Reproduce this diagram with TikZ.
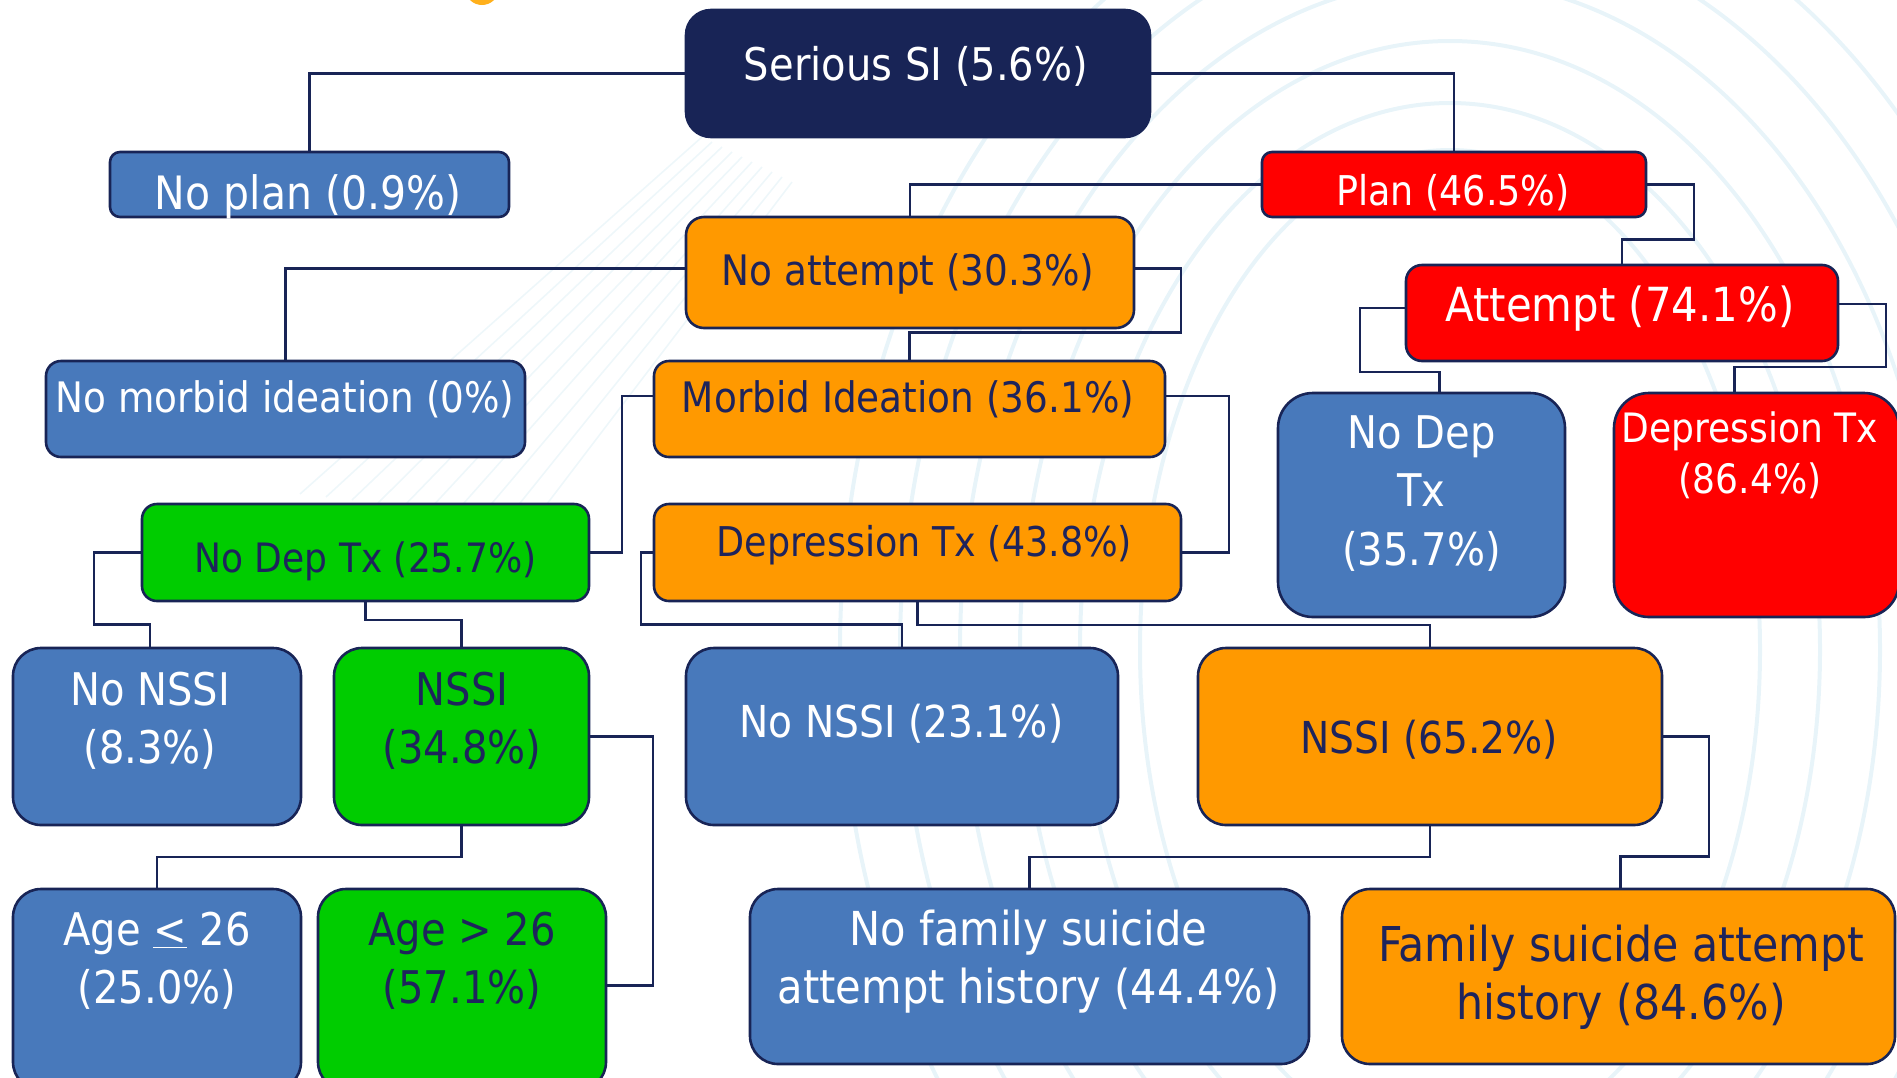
\documentclass[tikz,border=0pt]{standalone}
\usepackage{fontspec}
\setmainfont{DejaVu Sans}[FakeStretch=0.89]
\usetikzlibrary{calc}
\definecolor{navy}{RGB}{24,36,86}
\definecolor{boxblue}{RGB}{72,121,187}
\definecolor{boxred}{RGB}{255,0,0}
\definecolor{boxorange}{RGB}{255,153,0}
\definecolor{boxgreen}{RGB}{0,204,0}
\definecolor{txtnavy}{RGB}{30,36,92}
\definecolor{bgline}{RGB}{232,244,249}
\definecolor{dotorange}{RGB}{255,176,28}
\pgfdeclarelayer{bg}
\pgfsetlayers{bg,main}
\tikzset{
  box/.style={draw=navy, line width=2.6pt, rounded corners=#1, inner sep=0pt, outer sep=0pt, shape=rectangle},
  conn/.style={draw=navy, line width=2.3pt},
  wtxt/.style={text=white, align=center, inner sep=0pt},
  ntxt/.style={text=txtnavy, align=center, inner sep=0pt},
  deco/.style={draw=bgline, line width=4pt},
}
\newcommand{\mkbox}[7]{\node[box=#7, fill=#6, minimum width={#4-#2}, minimum height={#5-#3}] (#1) at ({(#2+#4)/2},{(#3+#5)/2}) {};}
\newcommand{\fs}[2]{\fontsize{#1}{#2}\selectfont}
\begin{document}
\begin{tikzpicture}[x=1pt,y=-1pt]
\useasboundingbox (0,0) rectangle (1897,1077);
% boxes
\mkbox{si}{686}{10}{1150}{137}{navy}{25}
\mkbox{noplan}{110}{152}{509}{217}{boxblue}{10}
\mkbox{plan}{1262}{152}{1646}{217}{boxred}{10}
\mkbox{noatt}{686}{217}{1134}{328}{boxorange}{18}
\mkbox{attempt}{1406}{265}{1838}{361}{boxred}{16}
\mkbox{nomorbid}{46}{361}{525}{457}{boxblue}{15}
\mkbox{morbid}{654}{361}{1165}{457}{boxorange}{15}
\mkbox{nodepa}{142}{504}{589}{601}{boxgreen}{15}
\mkbox{deptxa}{654}{504}{1181}{601}{boxorange}{15}
\mkbox{nodepb}{1278}{393}{1565}{617}{boxblue}{35}
\mkbox{deptxb}{1614}{393}{1899}{617}{boxred}{35}
\mkbox{nonssia}{13}{648}{301}{825}{boxblue}{28}
\mkbox{nssia}{334}{648}{589}{825}{boxgreen}{28}
\mkbox{nonssib}{686}{648}{1118}{825}{boxblue}{28}
\mkbox{nssib}{1198}{648}{1662}{825}{boxorange}{28}
\mkbox{agea}{13}{889}{301}{1090}{boxblue}{28}
\mkbox{ageb}{318}{889}{606}{1090}{boxgreen}{28}
\mkbox{nofam}{750}{889}{1309}{1064}{boxblue}{28}
\mkbox{fam}{1342}{889}{1895}{1064}{boxorange}{28}
% texts
\node[wtxt, font=\fs{45}{57}] (si-t) at (916,66.5) {Serious SI (5.6\%)};
\node[wtxt, font=\fs{46}{57}] (noplan-t) at (308,197) {No plan (0.9\%)};
\node[wtxt, font=\fs{41}{50}] (plan-t) at (1453,192.5) {Plan (46.5\%)};
\node[ntxt, font=\fs{42}{52}] (noatt-t) at (908,274) {No attempt (30.3\%)};
\node[wtxt, font=\fs{47}{57}] (attempt-t) at (1620,308.5) {Attempt (74.1\%)};
\node[wtxt, font=\fs{42}{52}] (nomorbid-t) at (285,399.5) {No morbid ideation (0\%)};
\node[ntxt, font=\fs{42}{52}] (morbid-t) at (908,399.5) {Morbid Ideation (36.1\%)};
\node[ntxt, font=\fs{40.5}{50}] (nodepa-t) at (365.5,561.5) {No Dep Tx (25.7\%)};
\node[ntxt, font=\fs{41}{50}] (deptxa-t) at (924.5,545) {Depression Tx (43.8\%)};
\node[wtxt, font=\fs{45}{58.5}] (nodepb-t) at (1421.5,493.5) {No Dep\\Tx\\(35.7\%)};
\node[wtxt, font=\fs{40.5}{51}] (deptxb-t) at (1750,455.5) {Depression Tx\\(86.4\%)};
\node[wtxt, font=\fs{45}{58}] (nonssia-t) at (150,721) {No NSSI\\(8.3\%)};
\node[ntxt, font=\fs{45}{58}] (nssia-t) at (462,721) {NSSI\\(34.8\%)};
\node[wtxt, font=\fs{44}{57}] (nonssib-t) at (901.5,723.5) {No NSSI (23.1\%)};
\node[ntxt, font=\fs{44}{57}] (nssib-t) at (1429,739.5) {NSSI (65.2\%)};
\node[wtxt, font=\fs{45}{58}] (agea-t) at (157,961) {Age \underline{<} 26\\(25.0\%)};
\node[ntxt, font=\fs{45}{58}] (ageb-t) at (462,961) {Age > 26\\(57.1\%)};
\node[wtxt, font=\fs{46.8}{58}] (nofam-t) at (1028.5,962) {No family suicide\\attempt history (44.4\%)};
\node[ntxt, font=\fs{48}{58}] (fam-t) at (1621,977.5) {Family suicide attempt\\history (84.6\%)};
\begin{pgfonlayer}{bg}
% faint background decoration
\foreach \rx/\ry in {310/500,370/547,430/609,490/670,550/730,610/790}{
  \draw[deco] (1450,650) ellipse [x radius=\rx pt, y radius=\ry pt];
}
\foreach \k in {0,...,9}{
  \draw[draw=bgline!75!white, line width=1.6pt] ({702+10*\k},{137+5*\k}) -- ({300+26*\k},{494+3*\k});
}
\fill[dotorange] (482,-12) circle (17pt);
% connectors
\draw[conn] (si.west) -| (noplan.north);
\draw[conn] (si.east) -| (plan.north);
\draw[conn] (plan.west) -| (noatt.north);
\draw[conn] (plan.east) -- ++(48,0) -- ++(0,55) -| (attempt.north);
\draw[conn] ([yshift=4pt]noatt.west) -| (nomorbid.north);
\draw[conn] ([yshift=4pt]noatt.east) -- ++(47,0) -- ++(0,64) -| (morbid.north);
\draw[conn] ([yshift=13pt]morbid.west) -- ++(-32,0) |- (nodepa.east);
\draw[conn] ([yshift=13pt]morbid.east) -- ++(64,0) |- (deptxa.east);
\draw[conn] ([yshift=5pt]attempt.west) -- ++(-46,0) -- ++(0,64) -| ([xshift=18pt]nodepb.north);
\draw[conn] ([yshift=9pt]attempt.east) -- ++(48,0) -- ++(0,63) -| ([xshift=-22pt]deptxb.north);
\draw[conn] (nodepa.west) -- ++(-48,0) -- ++(0,72) -| ([xshift=-7pt]nonssia.north);
\draw[conn] (nodepa.south) -- ++(0,19) -| (nssia.north);
\draw[conn] (deptxa.west) -- ++(-13,0) -- ++(0,72) -| (nonssib.north);
\draw[conn] (deptxa.south) -- ++(0,24) -| (nssib.north);
\draw[conn] (nssia.south) -- ++(0,32) -| (agea.north);
\draw[conn] (nssia.east) -- ++(64,0) |- ([yshift=4pt]ageb.east);
\draw[conn] (nssib.south) -- ++(0,32) -| (nofam.north);
\draw[conn] (nssib.east) -- ++(47,0) -- ++(0,120) -| ([xshift=2pt]fam.north);
\end{pgfonlayer}
\end{tikzpicture}
\end{document}
